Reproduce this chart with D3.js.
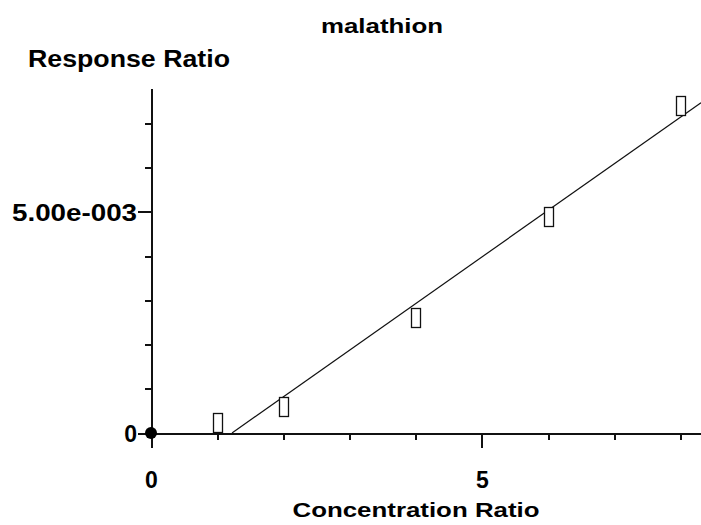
<!DOCTYPE html>
<html>
<head>
<meta charset="utf-8">
<script src="https://cdn.jsdelivr.net/npm/d3@7"></script>
<style>
  body { margin: 0; background: #fff; }
  svg text { font-family: "Liberation Sans", Arial, sans-serif; font-weight: bold; fill: #000; }
</style>
</head>
<body>
<div id="chart"></div>
<script>
// data
var concRatio = [1, 2, 4, 6, 8];
var respRatio = [0.00023, 0.00060, 0.00261, 0.00490, 0.00741];
// fitted calibration line, y = slope * x + intercept
var fitSlope = 0.001054;
var fitIntercept = -0.00129;

var xMajorTicks = [0, 5];
var xMinorTicks = [1, 2, 3, 4, 6, 7, 8];
var yMajorTicks = [0, 0.005];
var yMinorTicks = [0.001, 0.002, 0.003, 0.004, 0.006, 0.007];

var chartTitle = "malathion";
var xTitle = "Concentration Ratio";
var yTitle = "Response Ratio";

var width = 701, height = 525;

var svg = d3.select("#chart").append("svg")
  .attr("width", width)
  .attr("height", height);

var x = d3.scaleLinear().domain([0, 8.31]).range([151, 701]);
var y = d3.scaleLinear().domain([0, 0.0078]).range([433, 88]);

// sci format like 5.00e-003
function sciFormat(v) {
  if (v === 0) return "0";
  var s = d3.format(".2e")(v);
  var parts = s.split("e");
  var sign = parts[1][0] === "-" ? "-" : "+";
  var exp = parts[1].replace(/[-+]/, "");
  while (exp.length < 3) exp = "0" + exp;
  return parts[0] + "e" + sign + exp;
}

// y axis: minor then major ticks
svg.append("g")
  .attr("class", "y-minor")
  .attr("transform", "translate(" + x(0) + ",0)")
  .call(d3.axisLeft(y).tickValues(yMinorTicks).tickSize(6).tickSizeOuter(0).tickFormat(""));

svg.append("g")
  .attr("class", "y-major")
  .attr("transform", "translate(" + x(0) + ",0)")
  .call(d3.axisLeft(y).tickValues(yMajorTicks).tickSize(13).tickSizeOuter(0).tickPadding(1).tickFormat(sciFormat));

// x axis
svg.append("g")
  .attr("class", "x-minor")
  .attr("transform", "translate(0," + y(0) + ")")
  .call(d3.axisBottom(x).tickValues(xMinorTicks).tickSize(7).tickSizeOuter(0).tickFormat(""));

svg.append("g")
  .attr("class", "x-major")
  .attr("transform", "translate(0," + y(0) + ")")
  .call(d3.axisBottom(x).tickValues(xMajorTicks).tickSize(15).tickSizeOuter(0).tickPadding(24).tickFormat(d3.format("d")));

svg.selectAll(".domain, .tick line")
  .attr("stroke", "#111")
  .attr("stroke-width", 2)
  .attr("shape-rendering", "crispEdges");

svg.selectAll(".y-major .tick text")
  .attr("font-size", 23)
  .attr("dy", "0.36em")
  .each(function(d) {
    // the long label is stretched to the width seen in the reference
    if (d !== 0) {
      d3.select(this).attr("textLength", 125).attr("lengthAdjust", "spacingAndGlyphs");
    }
  });

svg.selectAll(".x-major .tick text")
  .attr("font-size", 23)
  .attr("dy", "0.71em");

// origin marker
svg.append("circle")
  .attr("cx", x(0))
  .attr("cy", y(0))
  .attr("r", 6)
  .attr("fill", "#000");

// fitted line from the x-intercept to the right edge
var xStart = -fitIntercept / fitSlope;
var xEnd = x.domain()[1];
svg.append("line")
  .attr("x1", x(xStart))
  .attr("y1", y(fitSlope * xStart + fitIntercept))
  .attr("x2", x(xEnd))
  .attr("y2", y(fitSlope * xEnd + fitIntercept))
  .attr("stroke", "#111")
  .attr("stroke-width", 1.2);

// data markers (open rectangles)
var points = concRatio.map(function(c, i) { return { c: c, r: respRatio[i] }; });
var markW = 9, markH = 19;
svg.selectAll("rect.pt")
  .data(points)
  .enter()
  .append("rect")
    .attr("class", "pt")
    .attr("x", function(d) { return Math.round(x(d.c) - markW / 2) + 0.5; })
    .attr("y", function(d) { return Math.round(y(d.r) - markH / 2) + 0.5; })
    .attr("width", markW)
    .attr("height", markH)
    .attr("fill", "#fff")
    .attr("stroke", "#111")
    .attr("stroke-width", 1.3);

// titles
svg.append("text")
  .attr("x", 382)
  .attr("y", 33)
  .attr("text-anchor", "middle")
  .attr("font-size", 20)
  .attr("textLength", 122)
  .attr("lengthAdjust", "spacingAndGlyphs")
  .text(chartTitle);

svg.append("text")
  .attr("x", 28)
  .attr("y", 67)
  .attr("font-size", 23)
  .attr("textLength", 202)
  .attr("lengthAdjust", "spacingAndGlyphs")
  .text(yTitle);

svg.append("text")
  .attr("x", 416)
  .attr("y", 517)
  .attr("text-anchor", "middle")
  .attr("font-size", 21)
  .attr("textLength", 247)
  .attr("lengthAdjust", "spacingAndGlyphs")
  .text(xTitle);
</script>
</body>
</html>
